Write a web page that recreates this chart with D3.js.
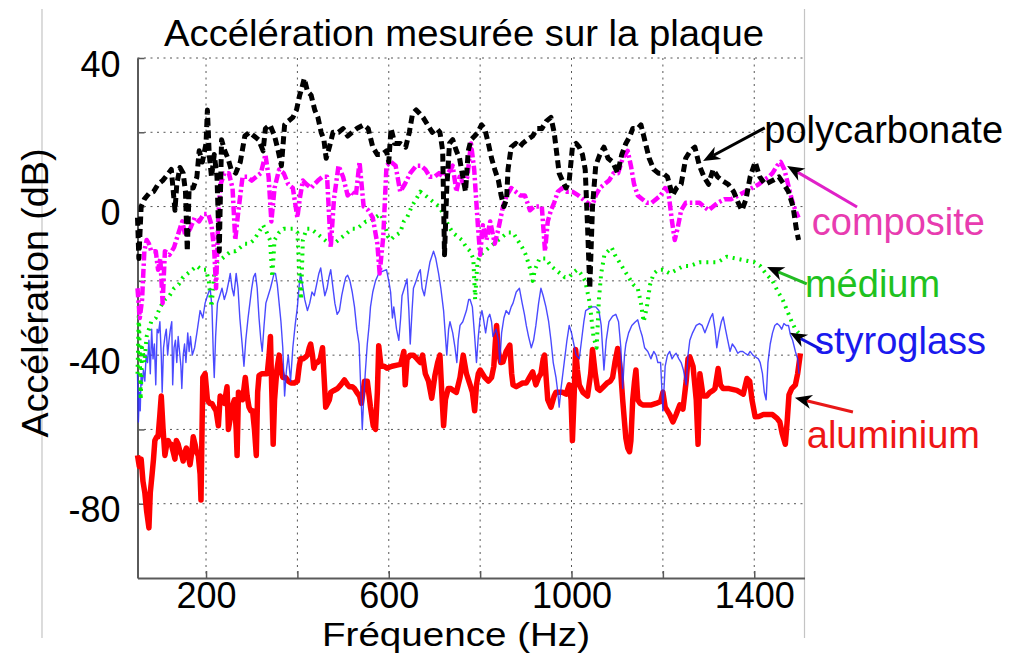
<!DOCTYPE html>
<html>
<head>
<meta charset="utf-8">
<script src="https://cdn.jsdelivr.net/npm/d3@7"></script>
<style>
  body { margin: 0; background: #fff; }
  svg text { font-family: "Liberation Sans", Arial, Helvetica, sans-serif; }
</style>
</head>
<body>
<div id="chart"></div>
<script>
const width = 1009;
const height = 654;
const margin = { top: 58, right: 204.5, bottom: 76, left: 137.5 };

// axis ticks / grid
const xGrid = [200, 400, 600, 800, 1000, 1200, 1400];
const xLabels = [200, 600, 1000, 1400];
const yGrid = [-80, -60, -40, -20, 0, 20, 40];
const yLabels = [-80, -40, 0, 40];

// [frequency (Hz), acceleration (dB)]
const polycarbonate = [[50,-3],[53,-14],[58,0],[65,2],[75,3.5],[85,4],[95,6],[105,7],[115,8.5],[124,10],[132,-1],[136,6],[143,10.5],[150,9],[155,4],[159,-12],[163,5],[172,5],[180,8],[185,15],[192,12],[200,17],[203,26],[207,14],[212,8],[218,14],[224,8],[229,-12],[234,18],[241,15],[248,13],[255,10],[265,9],[275,12],[285,19],[295,20],[305,19],[315,18],[325,15],[330,21],[340,22],[350,19],[358,15],[365,11],[372,22],[380,23],[390,24],[398,26],[405,30],[410,32],[415,34.5],[422,31],[430,30],[438,26],[445,24],[452,20],[458,18],[463,13],[470,16],[478,20],[490,20],[500,21],[510,19],[520,20],[530,21],[545,22],[555,21],[565,16],[575,14],[585,14],[595,15],[600,12],[605,21],[613,17],[625,17],[637,16],[645,20],[652,25],[660,26],[668,25],[675,24],[685,22],[695,20],[705,21],[712,20],[718,15],[722,-13],[727,5],[733,17],[740,18],[748,15],[755,13],[762,8],[768,4],[774,15],[780,18],[788,19],[795,20],[803,22],[810,21],[818,17],[825,13],[832,10],[840,7],[846,3],[852,0],[858,2],[861,10],[868,16],[878,17],[886,16],[893,17],[903,18],[915,19],[925,21],[935,21],[945,23],[955,24],[962,20],[968,14],[973,9],[980,7],[988,5],[995,7],[1002,16],[1010,17],[1017,16],[1024,14],[1030,10],[1035,-5],[1040,-22],[1046,0],[1053,11],[1062,14],[1071,16],[1080,13],[1090,12],[1101,9],[1110,14],[1119,17],[1128,19],[1134,21],[1145,21],[1152,22],[1160,18],[1170,13],[1180,10],[1190,9],[1200,9],[1210,8],[1221,3],[1230,5],[1240,6],[1250,13],[1260,15],[1270,16],[1280,11],[1290,8],[1300,6],[1310,10],[1320,8],[1330,7],[1343,6],[1355,4],[1365,1],[1373,-1],[1382,2],[1391,8],[1402,12],[1412,8],[1424,6],[1440,7],[1454,8],[1465,6],[1475,4],[1485,0],[1492,-6],[1497,-9]];

const composite = [[50,-22],[55,-30],[60,-25],[65,-12],[70,-9],[75,-10],[80,-12],[90,-12],[95,-17],[100,-14],[105,-26],[110,-12],[120,-13],[130,-11],[140,-7],[148,-4],[155,-8],[165,-6],[175,-3],[185,-4],[195,-2],[205,-2],[212,-5],[218,-12],[222,-22],[227,-2],[232,6],[240,9],[250,9],[258,5],[264,-9],[270,-2],[280,8],[290,8],[300,7],[310,8],[320,9],[330,14],[337,8],[343,-4],[350,5],[360,10],[370,9],[380,6],[390,5],[400,-3],[405,2],[412,7],[420,6],[430,5],[437,6],[445,7],[455,8],[465,8],[473,-11],[480,2],[490,11],[500,8],[510,3],[518,4],[528,3],[536,12],[545,0],[555,-1],[565,-3],[575,-10],[580,-18],[588,-8],[595,11],[605,12],[615,11],[625,4],[635,6],[647,9],[660,11],[670,11],[680,10],[690,8],[700,8],[710,9],[720,8],[730,9],[740,11],[748,4],[755,8],[765,6],[772,8],[780,17],[787,10],[795,-5],[800,-13],[806,-5],[814,-9],[822,-4],[832,-10],[840,-6],[850,0],[858,3],[868,5],[878,4],[888,3],[898,3],[909,-1],[918,0],[926,0],[935,0],[942,-12],[948,-4],[955,-1],[962,1],[970,4],[980,5],[990,4],[1002,4],[1015,3],[1025,2],[1035,1],[1045,0],[1053,3],[1062,5],[1072,6],[1082,7],[1092,9],[1102,9],[1112,13],[1123,15],[1130,11],[1137,6],[1145,3],[1155,2],[1165,1],[1175,1],[1185,2],[1195,3],[1205,5],[1212,4],[1220,-4],[1226,-9],[1232,-6],[1240,-1],[1250,1],[1260,1],[1270,1],[1280,1],[1290,0],[1300,-1],[1310,0],[1320,1],[1335,2],[1350,2],[1365,3],[1380,4],[1395,5],[1410,6],[1420,7],[1432,8],[1440,9],[1450,11],[1458,12],[1466,10],[1474,6],[1482,2],[1490,-1],[1497,-3]];

const medium = [[50,-45],[53,-28],[57,-52],[60,-38],[65,-42],[70,-35],[80,-31],[90,-30],[100,-27],[110,-25],[120,-24],[130,-22],[140,-21],[150,-19],[160,-18],[170,-17],[180,-16],[190,-17],[200,-17],[206,-20],[212,-27],[218,-18],[225,-15],[235,-14],[245,-13],[255,-12],[265,-12],[275,-11],[285,-10],[295,-10],[305,-9],[315,-7],[325,-5],[333,-7],[340,-9],[345,-19],[350,-9],[360,-7],[370,-6],[380,-6],[390,-6],[400,-7],[405,-20],[408,-25],[412,-9],[420,-6],[430,-6],[440,-7],[450,-8],[460,-9],[470,-10],[480,-10],[490,-9],[500,-8],[510,-7],[520,-6],[530,-6],[540,-5],[550,-4],[560,-4],[570,-3],[582,-2],[590,-4],[598,-8],[604,-9],[612,-8],[625,-7],[633,-4],[640,-3],[650,0],[660,2],[669,4],[680,3],[690,2],[700,1],[710,0],[720,-2],[730,-5],[740,-7],[750,-8],[760,-9],[770,-11],[778,-12],[785,-14],[789,-25],[794,-15],[800,-13],[810,-12],[820,-11],[830,-10],[840,-9],[850,-8],[860,-7],[872,-7],[882,-9],[892,-11],[900,-13],[910,-17],[915,-20],[920,-17],[930,-14],[944,-14],[955,-16],[965,-17],[975,-18],[985,-19],[995,-19],[1002,-18],[1012,-17],[1020,-18],[1030,-20],[1040,-26],[1048,-35],[1055,-38],[1060,-25],[1065,-18],[1072,-13],[1080,-12],[1088,-11],[1095,-13],[1105,-15],[1115,-17],[1125,-19],[1135,-21],[1145,-22],[1152,-26],[1158,-31],[1165,-27],[1172,-21],[1180,-18],[1190,-17],[1200,-17],[1215,-18],[1230,-17],[1245,-16],[1260,-16],[1280,-15],[1300,-15],[1320,-15],[1340,-13.5],[1360,-14],[1380,-14.5],[1400,-15],[1413,-16],[1425,-18],[1440,-20],[1452,-23],[1462,-25],[1472,-28],[1482,-31],[1490,-33],[1497,-34]];

const styroglass = [[50,-45],[52,-58],[54,-50],[56,-55],[58,-45],[60,-48],[63,-44],[66,-47],[69,-40],[72,-42],[75,-36],[78,-45],[81,-33],[84,-41],[87,-37],[90,-48],[93,-33],[96,-34],[99,-31],[102,-40],[104,-50],[107,-38],[110,-35],[113,-33],[116,-40],[119,-36],[122,-33],[125,-31],[127,-48],[130,-38],[133,-36],[136,-42],[139,-35],[142,-39],[145,-43],[147,-49],[150,-40],[153,-37],[156,-42],[160,-34],[163,-39],[166,-35],[170,-40],[175,-38],[180,-34],[187,-28],[193,-30],[198,-26],[203,-24],[209,-22],[213,-27],[216,-40],[218,-46],[221,-35],[225,-26],[230,-24],[235,-22],[240,-25],[245,-23],[250,-20],[253,-18],[257,-22],[261,-24],[266,-18],[270,-22],[274,-30],[279,-37],[283,-43],[287,-36],[292,-30],[296,-26],[300,-22],[304,-19],[308,-18],[312,-22],[316,-30],[320,-36],[323,-39],[327,-32],[331,-26],[336,-24],[341,-22],[345,-20],[349,-18],[352,-18],[356,-21],[360,-26],[364,-31],[368,-38],[372,-51],[376,-44],[380,-40],[385,-47],[390,-38],[395,-32],[400,-27],[404,-21],[407,-18],[411,-21],[416,-25],[422,-28],[427,-26],[432,-23],[437,-24],[442,-21],[447,-18],[451,-16.5],[455,-20],[460,-24],[465,-22],[469,-19],[473,-17],[477,-21],[482,-26],[487,-29],[492,-28],[497,-24],[502,-21],[506,-19],[510,-18.5],[515,-20],[520,-23],[525,-27],[530,-33],[535,-37],[539,-50],[542,-60],[545,-52],[549,-44],[553,-37],[557,-32],[560,-27],[565,-23],[571,-20],[578,-18],[585,-17.5],[595,-17],[600,-20],[604,-23],[608,-30],[611,-27],[617,-33],[622,-36],[626,-30],[629,-24],[634,-22],[640,-19.5],[644,-28],[647,-37],[651,-28],[654,-22],[660,-20],[665,-18],[669,-17],[673,-22],[678,-24],[683,-20],[690,-15],[698,-12],[703,-14],[709,-18],[714,-22],[720,-28],[724,-35],[727,-40],[731,-33],[734,-31],[740,-34],[745,-38],[749,-42],[752,-36],[756,-32],[762,-31],[770,-28],[775,-25],[778,-25],[783,-27],[788,-35],[792,-42],[796,-35],[800,-30],[804,-28],[807,-30],[812,-34],[817,-30],[821,-29],[825,-31],[828,-35],[835,-33],[840,-36],[843,-42],[847,-34],[852,-30],[857,-28],[863,-29],[868,-27],[872,-26],[879,-23],[886,-22],[892,-26],[897,-29],[901,-32],[906,-35],[912,-38],[917,-36],[922,-32],[928,-26],[933,-22],[938,-24],[944,-27],[950,-31],[955,-36],[960,-42],[966,-46],[970,-50],[973,-54],[977,-49],[981,-45],[984,-42],[990,-36],[995,-32],[1000,-34],[1005,-37],[1010,-40],[1017,-41],[1022,-36],[1027,-31],[1031,-28],[1038,-27.5],[1046,-27],[1053,-27],[1060,-28],[1065,-32],[1071,-44],[1076,-36],[1082,-31],[1090,-29.5],[1097,-29],[1103,-31],[1108,-38],[1112,-49],[1116,-40],[1119,-37],[1125,-34],[1132,-32],[1140,-31],[1145,-30.5],[1150,-33],[1155,-35],[1160,-38],[1167,-39],[1174,-41],[1180,-39],[1185,-40],[1189,-42],[1195,-42],[1200,-55],[1205,-43],[1210,-40],[1215,-39],[1220,-41],[1225,-40],[1229,-39.5],[1235,-41],[1240,-42],[1245,-44],[1251,-48],[1255,-40],[1259,-36],[1265,-34],[1273,-32],[1280,-31.5],[1286,-32],[1292,-34],[1298,-32],[1304,-30],[1309,-28.8],[1314,-33],[1318,-38],[1323,-34],[1328,-31],[1332,-29.7],[1337,-33],[1342,-36],[1347,-39],[1352,-37],[1358,-38],[1364,-39.5],[1369,-39],[1375,-39],[1380,-39.5],[1386,-40],[1391,-39],[1397,-40],[1403,-40.5],[1409,-41],[1413,-42],[1418,-45],[1422,-50],[1426,-52],[1430,-42],[1435,-37],[1440,-34],[1445,-32],[1450,-31.5],[1455,-32],[1460,-33],[1465,-31.5],[1470,-32],[1475,-32],[1479,-34.5],[1484,-36],[1490,-39],[1495,-41],[1498,-45]];

const aluminium = [[50,-67],[54,-70],[58,-68],[62,-74],[66,-77],[70,-82],[75,-86.5],[78,-77],[82,-72],[85,-68],[88,-63],[92,-62],[95,-62],[99,-56],[102,-51],[106,-60],[110,-67],[114,-64],[117,-63],[121,-64],[124,-64],[128,-66],[132,-68],[135,-63],[139,-64],[143,-66],[147,-67],[150,-68.5],[154,-66],[157,-65],[161,-67],[165,-69.5],[169,-66],[172,-62],[176,-64],[179,-66],[183,-67],[187,-72],[189,-79],[191,-62],[193,-46],[198,-45],[203,-52],[208,-53],[213,-53],[217,-54],[222,-55],[227,-59],[231,-51],[235,-52],[240,-53],[246,-48.5],[249,-60],[253,-57],[257,-54],[262,-52],[266,-60],[268,-67],[271,-50],[276,-51],[280,-52],[286,-46],[290,-51],[294,-54],[298,-55],[302,-55],[306,-60],[310,-67],[313,-50],[316,-45.5],[322,-45],[328,-45],[334,-45],[338,-40],[341,-35],[344,-50],[347,-64],[350,-52],[355,-44],[360,-40],[364,-44],[368,-46],[374,-46],[380,-47],[386,-47.5],[393,-47.5],[400,-47],[404,-43],[407,-41],[412,-41],[418,-40.5],[422,-40],[426,-38],[429,-37],[433,-40],[436,-43.5],[440,-42],[444,-42],[450,-41],[455,-38],[458,-45],[462,-54],[466,-53],[470,-52],[473,-50],[480,-49.5],[488,-49],[495,-48],[503,-46.7],[510,-48],[514,-48.5],[520,-48.5],[525,-49],[530,-50],[536,-51],[540,-53],[547,-47],[553,-47],[560,-54],[566,-59],[571,-60],[575,-50],[578,-37.5],[583,-43],[590,-43],[596,-43.5],[607,-43],[618,-42.7],[626,-42.5],[633,-39],[636,-48],[640,-41],[647,-40],[654,-40],[662,-41],[669,-42],[674,-40],[680,-45],[687,-47],[694,-51.6],[701,-45.5],[707,-42],[712,-40],[716,-50],[720,-59],[724,-52],[730,-49],[736,-49],[741,-49.5],[748,-50],[756,-46],[763,-40],[770,-45],[778,-48],[783,-50],[788,-55],[792,-48],[796,-45],[800,-44],[805,-45],[810,-46],[818,-47],[825,-46],[830,-43],[833,-37],[836,-32],[840,-39],[845,-42],[850,-41.8],[857,-39],[865,-37.3],[869,-45],[872,-48],[879,-48.5],[886,-48],[893,-47.5],[901,-47.5],[908,-46],[915,-44.5],[922,-48],[928,-46],[933,-45],[938,-41],[941,-40],[945,-47],[948,-52],[955,-54],[962,-51],[966,-50],[973,-50],[980,-50],[988,-50.5],[995,-48],[999,-52],[1002,-63],[1006,-50],[1009,-38.5],[1013,-44],[1017,-48],[1025,-50],[1035,-51],[1042,-45],[1046,-38.5],[1052,-45],[1057,-49],[1062,-49.5],[1070,-48.5],[1078,-47.5],[1085,-47],[1090,-46],[1095,-42],[1101,-38.2],[1105,-42],[1108,-45],[1112,-52],[1116,-58],[1119,-62.4],[1123,-65],[1127,-66],[1130,-63],[1134,-52],[1138,-47],[1141,-44],[1145,-52],[1150,-53],[1156,-53.4],[1165,-53.4],[1175,-53.4],[1185,-53],[1195,-52.5],[1200,-50],[1205,-54],[1210,-55],[1215,-56],[1222,-58],[1229,-56],[1237,-53.4],[1244,-54.5],[1251,-47],[1255,-41],[1259,-40.5],[1266,-43],[1273,-52],[1277,-64],[1281,-45],[1288,-51],[1296,-51],[1303,-50],[1310,-49.5],[1314,-49],[1321,-43.6],[1326,-48],[1332,-49],[1345,-49],[1362,-49.5],[1376,-50.5],[1384,-46.3],[1390,-47],[1395,-52],[1402,-56.6],[1410,-56.5],[1420,-56],[1428,-56],[1440,-56],[1450,-57],[1456,-58],[1461,-61],[1468,-64],[1472,-58],[1476,-50.7],[1482,-49],[1490,-48],[1495,-45],[1501,-39.5]];

// label text anchor and arrow (tail -> tip), in data units
const labels = [
  { name: "polycarbonate", text: [1422, 17.1], tail: [1423, 21.2], tip: [1288, 12.3], color: "#000", lineColor: "#000" },
  { name: "composite", text: [1526, -7.7], tail: [1625, -0.1], tip: [1472, 10.9], color: "#e83cb0", lineColor: "#e020c8" },
  { name: "médium", text: [1511, -24.3], tail: [1515, -20.8], tip: [1428, -16.3], color: "#1fc21f", lineColor: "#22bb22" },
  { name: "styroglass", text: [1533, -39.7], tail: [1548, -38.6], tip: [1478, -34.0], color: "#1a1aee", lineColor: "#1111dd" },
  { name: "aluminium", text: [1515, -65.0], tail: [1616, -55.3], tip: [1489, -51.5], color: "#ee1515", lineColor: "#e81818" }
];

const svg = d3
  .select("#chart")
  .append("svg")
  .attr("width", width)
  .attr("height", height);

const x = d3
  .scaleLinear()
  .domain([50, 1510])
  .range([margin.left, width - margin.right]);

const y = d3
  .scaleLinear()
  .domain([-100, 40])
  .range([height - margin.bottom, margin.top]);

// page border lines
svg.selectAll(".border")
  .data([42, 804.5])
  .enter()
  .append("line")
  .attr("x1", (d) => d)
  .attr("x2", (d) => d)
  .attr("y1", 9)
  .attr("y2", 638)
  .attr("stroke", "#c4c4c4")
  .attr("stroke-width", 1.2);

// dotted grid
svg.append("g")
  .selectAll("line")
  .data(xGrid)
  .enter()
  .append("line")
  .attr("x1", (d) => x(d))
  .attr("x2", (d) => x(d))
  .attr("y1", y(40))
  .attr("y2", y(-100))
  .attr("stroke", "#555")
  .attr("stroke-width", 1)
  .attr("stroke-dasharray", "2,4.5");

svg.append("g")
  .selectAll("line")
  .data(yGrid)
  .enter()
  .append("line")
  .attr("x1", x(50))
  .attr("x2", x(1510))
  .attr("y1", (d) => y(d))
  .attr("y2", (d) => y(d))
  .attr("stroke", "#555")
  .attr("stroke-width", 1)
  .attr("stroke-dasharray", "2,4.5");

// axes (ticks inside, like matlab)
const xAxis = svg.append("g")
  .attr("transform", `translate(0,${y(-100)})`)
  .call(
    d3.axisBottom(x)
      .tickValues(xGrid)
      .tickSizeInner(-7)
      .tickSizeOuter(0)
      .tickPadding(4)
      .tickFormat((d) => (xLabels.includes(d) ? d : ""))
  );

const yAxis = svg.append("g")
  .attr("transform", `translate(${x(50)},0)`)
  .call(
    d3.axisLeft(y)
      .tickValues(yGrid)
      .tickSizeInner(-7)
      .tickSizeOuter(0)
      .tickPadding(17)
      .tickFormat((d) => (yLabels.includes(d) ? d : ""))
  );

[xAxis, yAxis].forEach((a) => {
  a.select(".domain").attr("stroke", "#5a5a5a").attr("stroke-width", 2);
  a.selectAll(".tick line").attr("stroke", "#5a5a5a").attr("stroke-width", 1.5);
  a.selectAll("text")
    .attr("font-family", '"Liberation Sans", Arial, sans-serif')
    .attr("font-size", 36)
    .attr("fill", "#000");
});
yAxis.selectAll("text").attr("dy", "0.5em");

// series
const line = d3
  .line()
  .x((d) => x(d[0]))
  .y((d) => y(d[1]));

const series = [
  { data: aluminium, color: "#ff0000", width: 5.5, dash: null, opacity: 1 },
  { data: styroglass, color: "#2a2aff", width: 1.4, dash: null, opacity: 0.85 },
  { data: medium, color: "#00ee00", width: 4, dash: "2,5", opacity: 1 },
  { data: composite, color: "#ff00ff", width: 4.5, dash: "9,3,2.5,3", opacity: 1 },
  { data: polycarbonate, color: "#000000", width: 5, dash: "8,4.5", opacity: 1 }
];

svg.append("g")
  .selectAll("path")
  .data(series)
  .enter()
  .append("path")
  .attr("d", (d) => line(d.data))
  .attr("fill", "none")
  .attr("stroke", (d) => d.color)
  .attr("stroke-width", (d) => d.width)
  .attr("stroke-dasharray", (d) => d.dash)
  .attr("stroke-opacity", (d) => d.opacity)
  .attr("stroke-linejoin", "round");

// title and axis labels
svg.append("text")
  .attr("x", 464)
  .attr("y", 46)
  .attr("text-anchor", "middle")
  .attr("font-size", 37)
  .attr("textLength", 600)
  .attr("lengthAdjust", "spacingAndGlyphs")
  .text("Accélération mesurée sur la plaque");

svg.append("text")
  .attr("x", 456)
  .attr("y", 646)
  .attr("text-anchor", "middle")
  .attr("font-size", 34)
  .attr("textLength", 268)
  .attr("lengthAdjust", "spacingAndGlyphs")
  .text("Fréquence (Hz)");

svg.append("text")
  .attr("transform", "translate(48,293) rotate(-90)")
  .attr("text-anchor", "middle")
  .attr("font-size", 37)
  .attr("textLength", 289)
  .attr("lengthAdjust", "spacingAndGlyphs")
  .text("Accélération (dB)");

// annotations
const ann = svg.append("g");

labels.forEach((d) => {
  const x1 = x(d.tail[0]), y1 = y(d.tail[1]);
  const x2 = x(d.tip[0]), y2 = y(d.tip[1]);
  const ang = Math.atan2(y2 - y1, x2 - x1);
  const len = 17, half = 7, notch = 12;
  const bx = x2 - len * Math.cos(ang), by = y2 - len * Math.sin(ang);
  const nx = x2 - notch * Math.cos(ang), ny = y2 - notch * Math.sin(ang);
  const px = -Math.sin(ang), py = Math.cos(ang);

  ann.append("line")
    .attr("x1", x1)
    .attr("y1", y1)
    .attr("x2", nx)
    .attr("y2", ny)
    .attr("stroke", d.lineColor)
    .attr("stroke-width", 3);

  ann.append("path")
    .attr("d", `M${x2},${y2}L${bx + px * half},${by + py * half}L${nx},${ny}L${bx - px * half},${by - py * half}Z`)
    .attr("fill", "#000");

  ann.append("text")
    .attr("x", x(d.text[0]))
    .attr("y", y(d.text[1]))
    .attr("font-size", 38)
    .attr("fill", d.color)
    .text(d.name);
});
</script>
</body>
</html>
